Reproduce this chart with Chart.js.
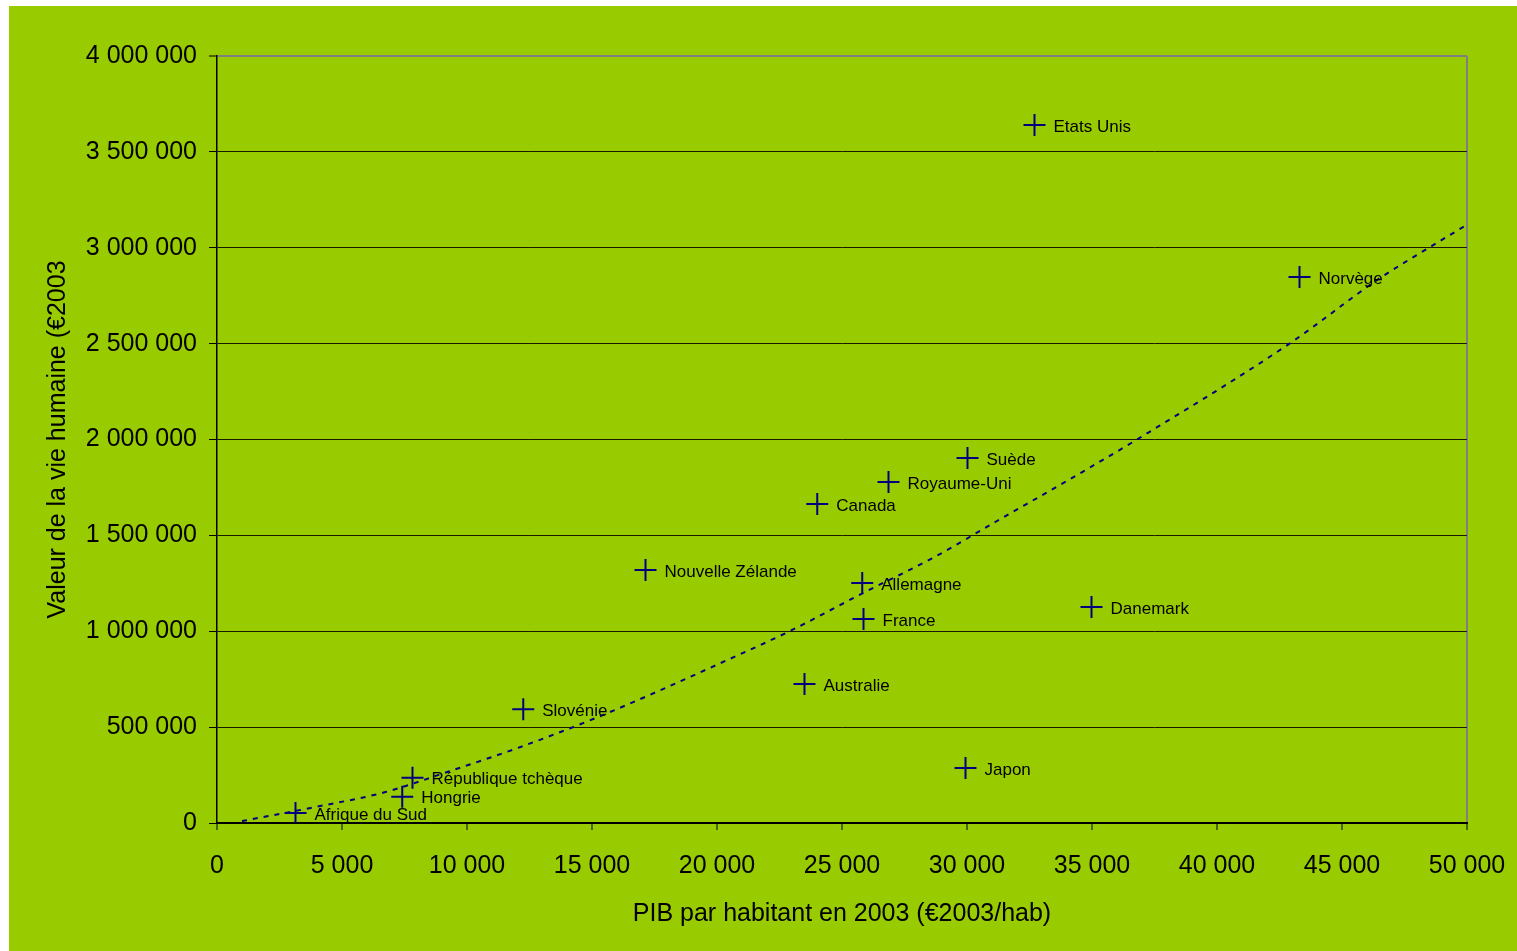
<!DOCTYPE html>
<html lang="fr">
<head>
    <meta charset="UTF-8">
    <title>Valeur de la vie humaine et PIB par habitant</title>
    <style>
        body {
            margin: 0;
            background-color: #fff;
        }
        .chart-box {
            position: absolute;
            left: 9px;
            top: 6px;
            width: 1508px;
            height: 945px;
            background-color: #99cc00;
        }
    </style>
</head>
<body>
    <div class="chart-box">
        <canvas id="chart" width="1508" height="945"></canvas>
    </div>
    <script src="https://cdn.jsdelivr.net/npm/chart.js"></script>
    <script>
        // countries and values
        const countries = ['Etats Unis', 'Norvège', 'Suède', 'Royaume-Uni', 'Canada', 'Nouvelle Zélande',
            'Allemagne', 'France', 'Danemark', 'Australie', 'Slovénie', 'Japon',
            'République tchèque', 'Hongrie', 'Afrique du Sud'];
        const gdpPerHead = [32700, 43300, 30020, 26860, 24010, 17140, 25810, 25860, 34980, 23500, 12250, 29940, 7820, 7410, 3140];
        const lifeValue = [3640000, 2847000, 1903000, 1778000, 1663000, 1319000, 1251000, 1064000, 1126000, 725000, 593000, 287000, 236000, 137000, 52000];

        // dotted trend curve
        const trendX = [1000, 4000, 6700, 9300, 12000, 15100, 20500, 22900, 26000, 28600, 31200, 34800, 36800, 42900, 46500, 48600, 50000];
        const trendY = [10000, 85000, 160000, 270000, 390000, 545000, 855000, 1000000, 1210000, 1380000, 1575000, 1845000, 2000000, 2500000, 2840000, 3010000, 3120000];

        const fmt = v => String(v).replace(/\B(?=(\d{3})+(?!\d))/g, ' ');

        Chart.defaults.font.family = "'Liberation Sans', Arial, sans-serif";
        Chart.defaults.color = '#000';

        const pointLabels = {
            id: 'pointLabels',
            afterDatasetsDraw(chart) {
                const ctx = chart.ctx;
                const meta = chart.getDatasetMeta(0);
                ctx.save();
                ctx.font = "17px 'Liberation Sans', Arial, sans-serif";
                ctx.fillStyle = '#000';
                ctx.textBaseline = 'middle';
                ctx.textAlign = 'left';
                meta.data.forEach((pt, i) => {
                    ctx.fillText(countries[i], pt.x + 19, pt.y + 2);
                });
                ctx.restore();
            }
        };

        new Chart(document.getElementById('chart'), {
            type: 'scatter',
            data: {
                datasets: [{
                    label: 'Pays',
                    data: gdpPerHead.map((x, i) => ({ x: x, y: lifeValue[i] })),
                    pointStyle: 'cross',
                    pointRadius: 11,
                    pointBorderWidth: 2,
                    borderColor: '#000080',
                    backgroundColor: '#000080',
                    order: 2
                }, {
                    label: 'Tendance',
                    data: trendX.map((x, i) => ({ x: x, y: trendY[i] })),
                    showLine: true,
                    borderColor: '#000080',
                    borderWidth: 2,
                    borderDash: [5, 6],
                    pointRadius: 0,
                    cubicInterpolationMode: 'monotone',
                    order: 1
                }]
            },
            options: {
                responsive: false,
                animation: false,
                layout: {
                    padding: { left: 0, top: 50, right: 50, bottom: 0 }
                },
                plugins: {
                    legend: { display: false },
                    tooltip: { enabled: false }
                },
                scales: {
                    x: {
                        min: 0,
                        max: 50000,
                        afterFit: s => {
                            s.height = 128;
                            s.paddingLeft = 0;
                            s.paddingRight = 0;
                        },
                        ticks: {
                            stepSize: 5000,
                            padding: 21,
                            maxRotation: 0,
                            font: { size: 25 },
                            callback: v => fmt(v)
                        },
                        grid: {
                            color: c => c.tick && c.tick.value === 50000 ? '#808080' : 'rgba(0,0,0,0)',
                            lineWidth: 2,
                            tickColor: '#000',
                            tickLength: 7,
                            tickWidth: 1
                        },
                        border: { color: '#000', width: 2 },
                        title: {
                            display: true,
                            text: 'PIB par habitant en 2003 (€2003/hab)',
                            font: { size: 25 },
                            padding: { top: 0, bottom: 22 }
                        }
                    },
                    y: {
                        min: 0,
                        max: 4000000,
                        afterFit: s => {
                            s.width = 208;
                            s.paddingTop = 0;
                            s.paddingBottom = 0;
                        },
                        ticks: {
                            stepSize: 500000,
                            padding: 12,
                            font: { size: 25 },
                            callback: v => fmt(v)
                        },
                        grid: {
                            color: c => c.tick && c.tick.value === 4000000 ? '#808080' : '#1a1a00',
                            lineWidth: c => c.tick && c.tick.value === 4000000 ? 2 : 1,
                            tickColor: '#000',
                            tickLength: 8,
                            tickWidth: 1
                        },
                        border: { color: '#000', width: 1.5 },
                        title: {
                            display: true,
                            text: 'Valeur de la vie humaine (€2003',
                            font: { size: 25 },
                            padding: { top: 34, bottom: 0 }
                        }
                    }
                }
            },
            plugins: [pointLabels]
        });
    </script>
</body>
</html>
